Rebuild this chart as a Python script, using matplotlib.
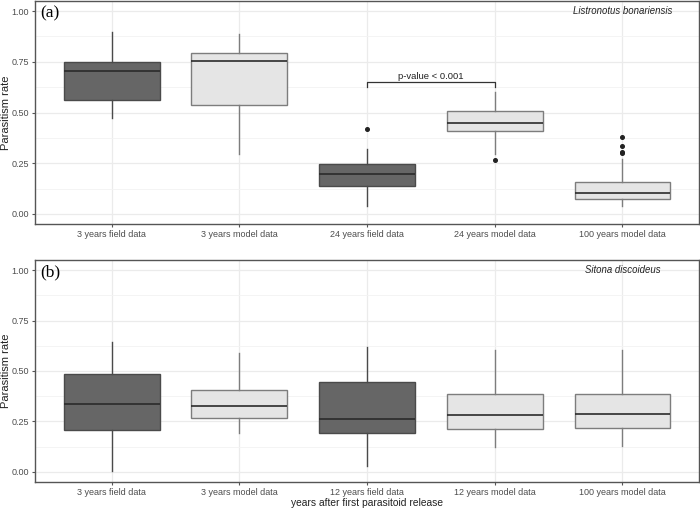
import matplotlib.pyplot as plt
import matplotlib.ticker as ticker

plt.rcParams['font.family'] = ['Liberation Sans', 'DejaVu Sans']

# Panel (a) - Listronotus bonariensis
cats_a = ['3 years field data', '3 years model data', '24 years field data',
          '24 years model data', '100 years model data']
field_a = [True, False, True, False, False]
whislo_a = [0.474, 0.293, 0.038, 0.294, 0.041]
q1_a = [0.562, 0.538, 0.139, 0.408, 0.074]
med_a = [0.704, 0.753, 0.195, 0.448, 0.103]
q3_a = [0.749, 0.793, 0.245, 0.508, 0.157]
whishi_a = [0.897, 0.886, 0.322, 0.601, 0.273]
fliers_a = [[], [], [0.42], [0.266], [0.379, 0.333, 0.305, 0.298]]

# Panel (b) - Sitona discoideus
cats_b = ['3 years field data', '3 years model data', '12 years field data',
          '12 years model data', '100 years model data']
field_b = [True, False, True, False, False]
whislo_b = [0.002, 0.195, 0.03, 0.121, 0.126]
q1_b = [0.207, 0.265, 0.192, 0.212, 0.217]
med_b = [0.334, 0.328, 0.263, 0.283, 0.287]
q3_b = [0.487, 0.406, 0.447, 0.384, 0.387]
whishi_b = [0.644, 0.590, 0.618, 0.603, 0.603]
fliers_b = [[], [], [], [], []]

yticks = [0.0, 0.25, 0.5, 0.75, 1.0]

DARK = '#666666'
LIGHT = '#e5e5e5'
GRID = '#ebebeb'
TXT = '#4d4d4d'


def draw_panel(ax, cats, field, lo, q1, med, q3, hi, fl, tag, species):
    stats = []
    for i in range(len(cats)):
        stats.append(dict(whislo=lo[i], q1=q1[i], med=med[i], q3=q3[i],
                          whishi=hi[i], fliers=fl[i]))
    pos = list(range(1, len(cats) + 1))
    for i, s in enumerate(stats):
        edge = '#4a4a4a' if field[i] else '#7d7d7d'
        ax.bxp([s], positions=[pos[i]], widths=0.75, patch_artist=True,
               showcaps=False, zorder=3,
               boxprops=dict(facecolor=DARK if field[i] else LIGHT,
                             edgecolor=edge, linewidth=1.0),
               whiskerprops=dict(color=edge, linewidth=1.0),
               medianprops=dict(color='#2b2b2b', linewidth=1.2),
               flierprops=dict(marker='o', markersize=2.6,
                               markerfacecolor='#222222',
                               markeredgecolor='#222222'))
    ax.set_xlim(0.4, len(cats) + 0.6)
    ax.set_ylim(-0.05, 1.05)
    ax.set_xticks(pos)
    ax.set_xticklabels(cats)
    ax.set_yticks(yticks)
    ax.yaxis.set_major_formatter(ticker.FormatStrFormatter('%.2f'))
    ax.yaxis.set_minor_locator(ticker.MultipleLocator(0.125))
    ax.grid(which='major', color=GRID, linewidth=0.9, zorder=0)
    ax.grid(which='minor', axis='y', color='#f3f3f3', linewidth=0.6, zorder=0)
    ax.set_axisbelow(True)
    ax.tick_params(axis='both', which='major', labelsize=6.5, labelcolor=TXT,
                   color='#555555', length=2.5, width=0.8, pad=2)
    ax.tick_params(axis='y', which='minor', length=0)
    for sp in ax.spines.values():
        sp.set_color('#555555')
        sp.set_linewidth(1.0)
    ax.set_ylabel('Parasitism rate', fontsize=8, color='#222222')
    ax.yaxis.set_label_coords(-0.044, 0.5)
    ax.yaxis.label.set_va('center')
    ax.text(0.008, 0.946, tag, transform=ax.transAxes, fontsize=12.5,
            family='Liberation Serif', va='center', ha='left')
    ax.text(5, 1.0, species, fontsize=6.9, style='italic', ha='center',
            va='center', color='#222222')


fig = plt.figure(figsize=(7, 5.11), dpi=100)
ax_a = fig.add_axes([0.05, 0.5616, 0.9486, 0.4364])
ax_b = fig.add_axes([0.05, 0.0568, 0.9486, 0.4344])

draw_panel(ax_a, cats_a, field_a, whislo_a, q1_a, med_a, q3_a, whishi_a,
           fliers_a, '(a)', 'Listronotus bonariensis')
draw_panel(ax_b, cats_b, field_b, whislo_b, q1_b, med_b, q3_b, whishi_b,
           fliers_b, '(b)', 'Sitona discoideus')

# significance bracket between 24 years field and model data
ax_a.plot([3, 3, 4, 4], [0.626, 0.65, 0.65, 0.626], color='#333333',
          linewidth=0.9, zorder=4)
ax_a.text(3.5, 0.655, 'p-value < 0.001', fontsize=6.8, ha='center',
          va='bottom', color='#222222')

ax_b.set_xlabel('years after first parasitoid release', fontsize=7.4,
                color='#222222')
ax_b.xaxis.set_label_coords(0.5, -0.095)
ax_b.xaxis.label.set_va('center')

fig.savefig('out.png', dpi=100)
